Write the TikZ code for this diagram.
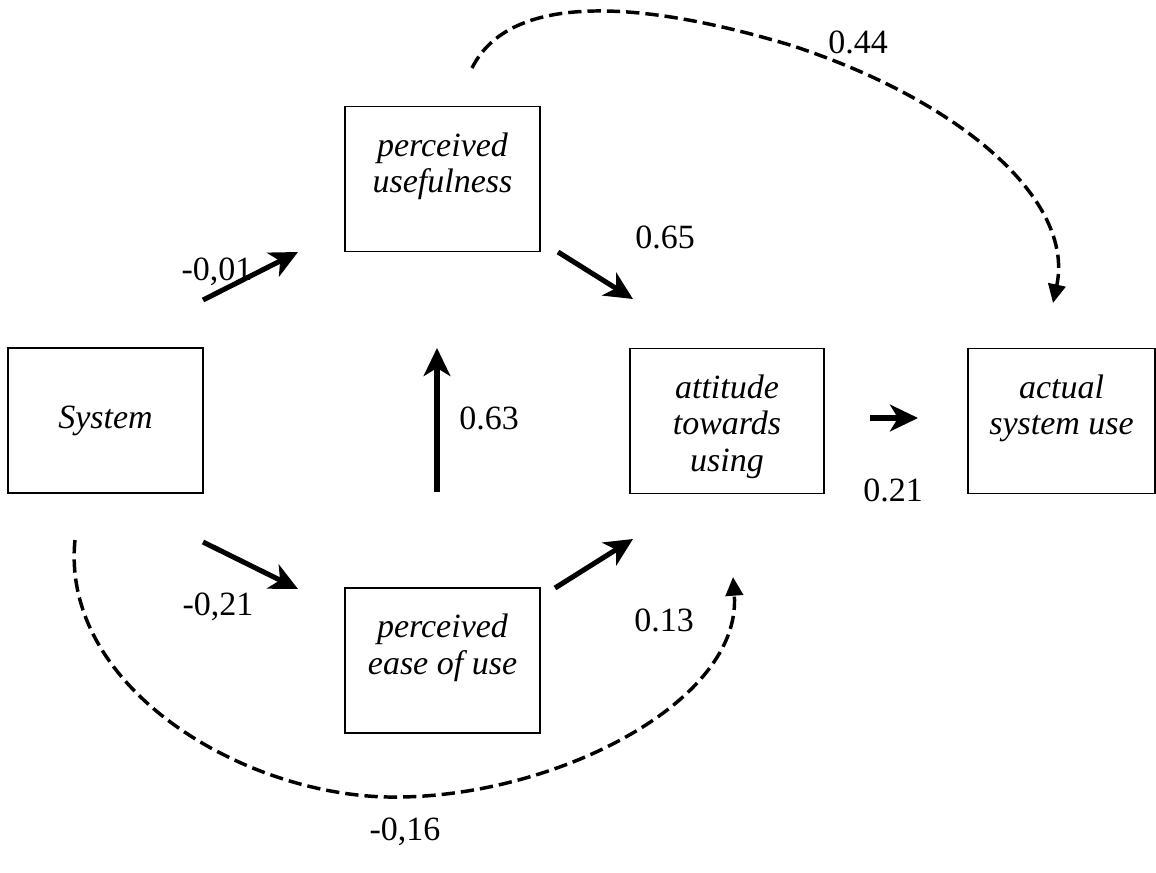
\documentclass[tikz,border=0pt]{standalone}
\usepackage{fontspec}
\setmainfont{Liberation Serif}
\usetikzlibrary{arrows.meta}
\begin{document}
\begin{tikzpicture}[x=0.75pt,y=-0.75pt,
  box/.style={draw, line width=1.4pt, inner sep=0pt, minimum height=108.75pt},
  boxtext/.style={anchor=north, align=center, inner sep=0pt,
    font=\itshape\fontsize{25.5}{27.5}\selectfont},
  coef/.style={inner sep=0pt, font=\fontsize{25.5}{27}\selectfont},
  effect/.style={line width=3.8pt, -{Stealth[length=21pt,width=20pt,inset=6pt]}},
  indirect/.style={line width=2.6pt, dash pattern=on 10pt off 4.5pt,
    -{Triangle[length=14pt,width=13pt]}}
]
\path[use as bounding box] (0,0) rectangle (1156,872);

% construct boxes
\node[box, minimum width=146.25pt] (sys)  at (105.5,420.5) {};
\node[box, minimum width=146.25pt] (pu)   at (442.5,179)   {};
\node[box, minimum width=146.25pt] (peou) at (442.5,660.5) {};
\node[box, minimum width=145.5pt]  (att)  at (727,421)     {};
\node[box, minimum width=140.25pt] (use)  at (1061.5,421)  {};

% box captions
\node[boxtext, anchor=center] (tsys) at (sys.center) {System};
\node[boxtext] (tpu)   at ([yshift=-20pt]pu.north)   {perceived\\usefulness};
\node[boxtext] (tpeou) at ([yshift=-20pt]peou.north) {perceived\\ease of use};
\node[boxtext] (tatt)  at ([yshift=-20pt]att.north)  {attitude\\towards\\using};
\node[boxtext] (tuse)  at ([yshift=-20pt]use.north)  {actual\\system use};

% end points of the direct effects
\coordinate (a1s) at (203,300); \coordinate (a1e) at (298,252);
\coordinate (a2s) at (203,542); \coordinate (a2e) at (298,589);
\coordinate (a3s) at (437,492); \coordinate (a3e) at (437,348);
\coordinate (a4s) at (558,252); \coordinate (a4e) at (633,299);
\coordinate (a5s) at (555,588); \coordinate (a5e) at (633,539);
\coordinate (a6s) at (870,418); \coordinate (a6e) at (918,418);

\draw[effect] (a1s) -- (a1e);
\draw[effect] (a2s) -- (a2e);
\draw[effect] (a3s) -- (a3e);
\draw[effect] (a4s) -- (a4e);
\draw[effect] (a5s) -- (a5e);
\draw[effect] (a6s) -- (a6e);

% indirect effects
\coordinate (b1s) at (472,68);  \coordinate (b1m) at (790,45);  \coordinate (b1e) at (1053,303);
\coordinate (b2s) at (75,540);  \coordinate (b2m) at (400,797); \coordinate (b2e) at (733,577);

\draw[indirect] (b1s) .. controls (510,-8) and (640,0) .. (b1m)
                      .. controls (960,100) and (1075,200) .. (b1e);
\draw[indirect] (b2s) .. controls (60,690) and (250,800) .. (b2m)
                      .. controls (560,795) and (742,700) .. (b2e);

% path coefficients
\node[coef] (c1) at (217,272) {-0,01};
\node[coef] (c2) at (218,607) {-0,21};
\node[coef] (c3) at (489,418) {0.63};
\node[coef] (c4) at (665,237) {0.65};
\node[coef] (c5) at (664,620) {0.13};
\node[coef] (c6) at (893,490) {0.21};
\node[coef] (c7) at (858,42)  {0.44};
\node[coef] (c8) at (405,832) {-0,16};
\end{tikzpicture}
\end{document}
